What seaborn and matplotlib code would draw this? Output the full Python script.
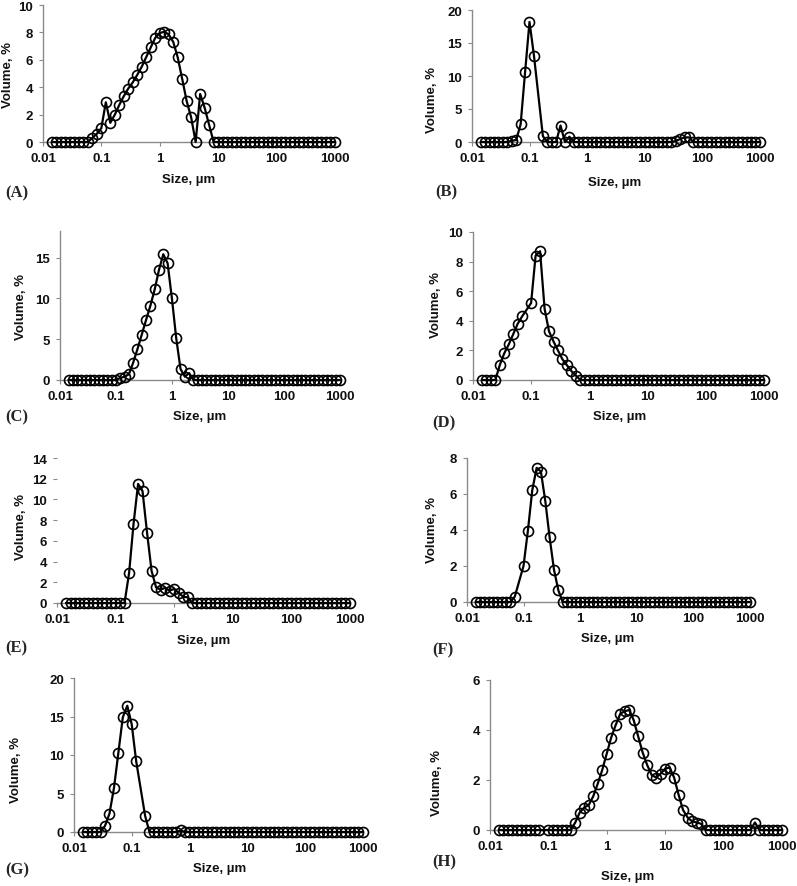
import numpy as np
import pandas as pd
import matplotlib
matplotlib.use("Agg")
import matplotlib.pyplot as plt
from matplotlib.ticker import NullLocator
import seaborn as sns

sns.set_style("white")
plt.rcParams['font.family'] = ['Liberation Sans', 'DejaVu Sans']

NA = np.nan

# === datos: canales de tamaño (µm) y volumen (%) de cada muestra ===
size_um = [0.0142, 0.0170, 0.0202, 0.0242, 0.0288, 0.0344, 0.0411, 0.0491, 0.0586, 0.0699, 0.0835, 0.0996, 0.119, 0.142, 0.170, 0.202,
           0.242, 0.288, 0.344, 0.411, 0.491, 0.586, 0.699, 0.835, 0.996, 1.19, 1.42, 1.70, 2.02, 2.42, 2.88, 3.44,
           4.11, 4.91, 5.86, 6.99, 8.35, 9.96, 11.9, 14.2, 17.0, 20.2, 24.2, 28.8, 34.4, 41.1, 49.1, 58.6,
           69.9, 83.5, 99.6, 119, 142, 170, 202, 242, 288, 344, 411, 491, 586, 699, 835, 996]

vol_a = [0, 0, 0, 0, 0, 0, 0, 0, 0, 0.3, 0.6, 1.0, 2.9, 1.4, 2.0, 2.7,
         3.35, 3.9, 4.35, 4.9, 5.5, 6.2, 6.9, 7.6, 7.95, 8.05, 7.85, 7.3, 6.2, 4.6, 3.0, 1.8,
         0, 3.5, 2.5, 1.25, 0, 0, 0, 0, 0, 0, 0, 0, 0, 0, 0, 0,
         0, 0, 0, 0, 0, 0, 0, 0, 0, 0, 0, 0, 0, 0, 0, 0]

vol_b = [0, 0, 0, 0, 0, 0, 0, 0.2, 0.3, 2.7, 10.6, 18.2, 13.1, NA, 0.9, 0,
         0, 0, 2.5, 0, 0.8, 0, 0, 0, 0, 0, 0, 0, 0, 0, 0, 0,
         0, 0, 0, 0, 0, 0, 0, 0, 0, 0, 0, 0, 0.15, 0.45, 0.7, 0.7,
         0, 0, 0, 0, 0, 0, 0, 0, 0, 0, 0, 0, 0, 0, 0, 0]

vol_c = [0, 0, 0, 0, 0, 0, 0, 0, 0, 0, 0, 0, 0.25, 0.4, 0.7, 2.1,
         3.8, 5.55, 7.35, 9.1, 11.1, 13.5, 15.4, 14.3, 10.0, 5.1, 1.35, 0.4, 0.85, 0, 0, 0,
         0, 0, 0, 0, 0, 0, 0, 0, 0, 0, 0, 0, 0, 0, 0, 0,
         0, 0, 0, 0, 0, 0, 0, 0, 0, 0, 0, 0, 0, 0, 0, 0]

vol_d = [0, 0, 0, 0, 1.0, 1.8, 2.4, 3.1, 3.8, 4.3, NA, 5.2, 8.4, 8.7, 4.8, 3.3,
         2.6, 2.0, 1.4, 1.0, 0.6, 0.3, 0, 0, 0, 0, 0, 0, 0, 0, 0, 0,
         0, 0, 0, 0, 0, 0, 0, 0, 0, 0, 0, 0, 0, 0, 0, 0,
         0, 0, 0, 0, 0, 0, 0, 0, 0, 0, 0, 0, 0, 0, 0, 0]

vol_e = [0, 0, 0, 0, 0, 0, 0, 0, 0, 0, 0, 0, 0, 0, 2.9, 7.6,
         11.5, 10.8, 6.8, 3.1, 1.5, 1.3, 1.45, 1.2, 1.35, 1.0, 0.6, 0.55, 0, 0, 0, 0,
         0, 0, 0, 0, 0, 0, 0, 0, 0, 0, 0, 0, 0, 0, 0, 0,
         0, 0, 0, 0, 0, 0, 0, 0, 0, 0, 0, 0, 0, 0, 0, 0]

vol_f = [0, 0, 0, 0, 0, 0, 0, 0, 0, 0.3, NA, 2.0, 3.95, 6.2, 7.45, 7.25,
         5.6, 3.6, 1.8, 0.65, 0, 0, 0, 0, 0, 0, 0, 0, 0, 0, 0, 0,
         0, 0, 0, 0, 0, 0, 0, 0, 0, 0, 0, 0, 0, 0, 0, 0,
         0, 0, 0, 0, 0, 0, 0, 0, 0, 0, 0, 0, 0, 0, 0, 0]

vol_g = [0, 0, 0, 0, 0, 0.8, 2.4, 5.7, 10.3, 14.9, 16.4, 14.0, 9.2, NA, 2.1, 0,
         0, 0, 0, 0, 0, 0, 0.2, 0, 0, 0, 0, 0, 0, 0, 0, 0,
         0, 0, 0, 0, 0, 0, 0, 0, 0, 0, 0, 0, 0, 0, 0, 0,
         0, 0, 0, 0, 0, 0, 0, 0, 0, 0, 0, 0, 0, 0, 0, 0]

vol_h = [0, 0, 0, 0, 0, 0, 0, 0, 0, 0, NA, 0, 0, 0, 0, 0,
         0, 0.3, 0.7, 0.9, 1.0, 1.35, 1.85, 2.4, 3.05, 3.7, 4.2, 4.65, 4.75, 4.8, 4.4, 3.75,
         3.1, 2.6, 2.2, 2.1, 2.25, 2.45, 2.5, 2.1, 1.4, 0.8, 0.5, 0.35, 0.3, 0.25, 0, 0,
         0, 0, 0, 0, 0, 0, 0, 0, 0, 0.3, 0, 0, 0, 0, 0, 0]

x_ticks = [0.01, 0.1, 1, 10, 100, 1000]
x_ticklabels = ['0.01', '0.1', '1', '10', '100', '1000']

# === disposición (en píxeles de la imagen) ===
W, H = 797, 887
panels = [
    # letra, datos, caja (izq, arriba, der, abajo), ymax, yticks, xlabel, ylabel, letra pos
    ('A', vol_a, (43, 6, 335, 143), 10, [0, 2, 4, 6, 8, 10], (189, 180), (8, 75), (5, 193)),
    ('B', vol_b, (472, 11, 760, 143), 20, [0, 5, 10, 15, 20], (615, 183), (432, 100), (435, 192)),
    ('C', vol_c, (60, 232, 340, 381), 18.25, [0, 5, 10, 15], (200, 417), (21, 307), (5, 417)),
    ('D', vol_d, (473, 233, 764, 381), 10, [0, 2, 4, 6, 8, 10], (620, 417), (436, 305), (432, 423)),
    ('E', vol_e, (57, 459, 350, 604), 14, [0, 2, 4, 6, 8, 10, 12, 14], (204, 641), (21, 527), (5, 648)),
    ('F', vol_f, (467, 459, 750, 603), 8, [0, 2, 4, 6, 8], (608, 639), (432, 530), (432, 650)),
    ('G', vol_g, (74, 679, 363, 833), 20, [0, 5, 10, 15, 20], (220, 869), (16, 770), (5, 870)),
    ('H', vol_h, (490, 681, 782, 831), 6, [0, 2, 4, 6], (628, 877), (437, 783), (432, 862)),
]

axis_gray = '#8a8a8a'

fig = plt.figure(figsize=(W / 100, H / 100), dpi=100)


def fx(x):
    return x / W


def fy(y):
    return 1 - y / H


for letra, vol, box, ymax, yticks, xl_pos, yl_pos, let_pos in panels:
    l, t, r, b = box
    ax = fig.add_axes([fx(l), fy(b), (r - l) / W, (b - t) / H])

    df = pd.DataFrame({'size': size_um, 'vol': vol}).dropna()
    sns.lineplot(data=df, x='size', y='vol', ax=ax, color='black', linewidth=1.6,
                 marker='o', markersize=7.2, markerfacecolor='none',
                 markeredgecolor='black', markeredgewidth=1.2,
                 errorbar=None, clip_on=False, zorder=3)

    ax.set_xscale('log')
    ax.set_xlim(0.01, 1000)
    ax.set_ylim(0, ymax)
    ax.set_xticks(x_ticks)
    ax.set_xticklabels(x_ticklabels)
    ax.xaxis.set_minor_locator(NullLocator())
    ax.set_yticks(yticks)
    ax.set_xlabel('')
    ax.set_ylabel('')

    for s in ['top', 'right']:
        ax.spines[s].set_visible(False)
    for s in ['left', 'bottom']:
        ax.spines[s].set_color(axis_gray)
        ax.spines[s].set_linewidth(1.0)
    if letra == 'E':
        ax.spines['left'].set_visible(False)

    ax.tick_params(axis='both', bottom=True, left=True, length=3, width=0.8,
                   color=axis_gray, labelsize=9.5, pad=4, labelcolor='#111111')
    for lab in ax.get_xticklabels() + ax.get_yticklabels():
        lab.set_fontweight('bold')

    fig.text(fx(xl_pos[0]), fy(xl_pos[1]), 'Size, µm', ha='center', va='center',
             fontsize=9.5, fontweight='bold', color='#111111')
    fig.text(fx(yl_pos[0]), fy(yl_pos[1]), 'Volume, %', ha='center', va='center',
             rotation=90, fontsize=9.5, fontweight='bold', color='#111111')
    fig.text(fx(let_pos[0]), fy(let_pos[1]), f'({letra})', ha='left', va='center',
             fontsize=12, fontweight='bold', family=['Liberation Serif', 'DejaVu Serif'])

plt.savefig('out.png', dpi=100)
